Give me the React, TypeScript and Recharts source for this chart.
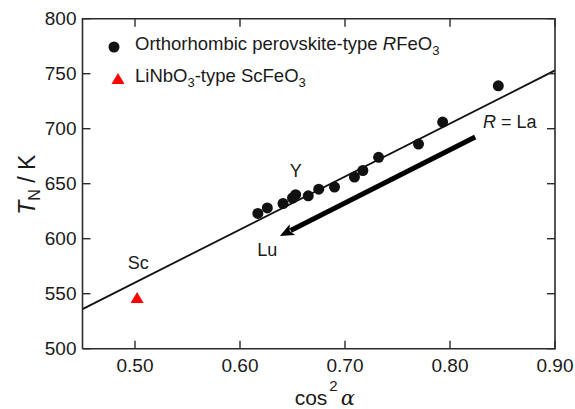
import React from "react";
import {
  ScatterChart,
  Scatter,
  XAxis,
  YAxis,
  ReferenceLine,
  ReferenceDot,
  Label,
} from "recharts";

// orthorhombic RFeO3 (cos^2 alpha, T_N)
const cos2Alpha = [
  0.617, 0.626, 0.641, 0.65, 0.653, 0.665, 0.675, 0.69, 0.709, 0.717, 0.732,
  0.77, 0.793, 0.846,
];
const tN = [623, 628, 632, 637, 640, 639, 645, 647, 656, 662, 674, 686, 706, 739];

// LiNbO3-type ScFeO3
const scX = [0.502];
const scY = [546];

// linear fit, end points
const fitX = [0.45, 0.9];
const fitY = [536, 753];

// arrow La -> Lu
const arrowX = [0.824, 0.638];
const arrowY = [692.5, 602.5];

const xDomain = [0.45, 0.9];
const yDomain = [500, 800];
const xTicks = [0.5, 0.6, 0.7, 0.8, 0.9];
const yTicks = [500, 550, 600, 650, 700, 750, 800];

const labelNames = ["Y", "Lu", "Sc", "R = La"];
const labelX = [0.653, 0.626, 0.503, 0.857];
const labelY = [662, 590, 578, 706];

const perovData = cos2Alpha.map((x, i) => ({ x, y: tN[i] }));
const scData = scX.map((x, i) => ({ x, y: scY[i] }));

// frame: the four corners of the plot, closed
const [X0, X1] = xDomain;
const [Y0, Y1] = yDomain;
const frameData = [
  { x: X0, y: Y0 },
  { x: X1, y: Y0 },
  { x: X1, y: Y1 },
  { x: X0, y: Y1 },
  { x: X0, y: Y0 },
];
// inward ticks on all four sides
const tickData = [
  ...xTicks.map((t) => ({ x: t, y: Y0, dir: "up" })),
  ...xTicks.map((t) => ({ x: t, y: Y1, dir: "down" })),
  ...yTicks.map((t) => ({ x: X0, y: t, dir: "right" })),
  ...yTicks.map((t) => ({ x: X1, y: t, dir: "left" })),
];

const FONT = "Liberation Sans, Arial, sans-serif";
const AXIS = "#2b2b2b";
const INK = "#1a1a1a";
const TICK_LEN = 8;
const tickFont = { fontSize: 19, fill: INK, fontFamily: FONT };

const Dot = (p: any) => <circle cx={p.cx} cy={p.cy} r={5.5} fill="#111" />;
const Tri = (p: any) => (
  <polygon
    points={`${p.cx},${p.cy - 6} ${p.cx - 6.5},${p.cy + 5} ${p.cx + 6.5},${p.cy + 5}`}
    fill="#ff0000"
  />
);
const NoMark = () => <g />;

const TickMark = (p: any) => {
  const d = p.payload?.dir ?? p.dir;
  const dx = d === "right" ? TICK_LEN : d === "left" ? -TICK_LEN : 0;
  const dy = d === "up" ? -TICK_LEN : d === "down" ? TICK_LEN : 0;
  return (
    <line
      x1={p.cx}
      y1={p.cy}
      x2={p.cx + dx}
      y2={p.cy + dy}
      stroke={AXIS}
      strokeWidth={1.4}
    />
  );
};

const Arrow = (p: any) => {
  const { x1, y1, x2, y2 } = p;
  const dx = x2 - x1;
  const dy = y2 - y1;
  const len = Math.sqrt(dx * dx + dy * dy);
  const ux = dx / len;
  const uy = dy / len;
  const head = 14;
  const bx = x2 - ux * head;
  const by = y2 - uy * head;
  const w = 6;
  return (
    <g>
      <line x1={x1} y1={y1} x2={bx + ux * 2} y2={by + uy * 2} stroke="#000" strokeWidth={5} />
      <polygon
        points={`${x2},${y2} ${bx - uy * w},${by + ux * w} ${bx + ux * 3},${by + uy * 3} ${bx + uy * w},${by - ux * w}`}
        fill="#000"
      />
    </g>
  );
};

const TextMark = (text: string) => (p: any) => {
  const { viewBox } = p;
  const cx = viewBox.x + (viewBox.width || 0) / 2;
  const cy = viewBox.y + (viewBox.height || 0) / 2;
  return (
    <text x={cx} y={cy} dy="0.35em" textAnchor="middle" fontSize={18} fontFamily={FONT} fill={INK}>
      {text === "R = La" ? (
        <>
          <tspan fontStyle="italic">R</tspan> = La
        </>
      ) : (
        text
      )}
    </text>
  );
};

const YTitle = (p: any) => {
  const { viewBox } = p;
  const cx = 27;
  const cy = viewBox.y + viewBox.height / 2 + 1;
  return (
    <text
      x={cx}
      y={cy}
      transform={`rotate(-90 ${cx} ${cy})`}
      textAnchor="middle"
      dy="0.35em"
      fontSize={23}
      fontFamily={FONT}
      fill={INK}
    >
      <tspan fontStyle="italic">T</tspan>
      <tspan fontSize={16} dy={5}>N</tspan>
      <tspan dy={-5}> / K</tspan>
    </text>
  );
};

const XTitle = (p: any) => {
  const { viewBox } = p;
  const cx = viewBox.x + viewBox.width / 2 + 6;
  return (
    <text x={cx} y={405} textAnchor="middle" fontSize={21} fontFamily={FONT} fill={INK}>
      cos
      <tspan fontSize={15} dy={-14} dx={2}>2</tspan>
      <tspan dy={14} dx={3} fontStyle="italic" fontFamily="DejaVu Serif, serif">α</tspan>
    </text>
  );
};

const subStyle = { fontSize: 13 };

const LegendBox = () => (
  <div
    style={{
      position: "absolute",
      left: 106,
      top: 31,
      fontFamily: FONT,
      fontSize: 18.5,
      lineHeight: "25px",
      color: INK,
      whiteSpace: "nowrap",
    }}
  >
    <div style={{ display: "flex", alignItems: "center" }}>
      <svg width={29} height={14}>
        <circle cx={8} cy={7} r={5.5} fill="#111" />
      </svg>
      <span>
        Orthorhombic perovskite-type <i>R</i>FeO<sub style={subStyle}>3</sub>
      </span>
    </div>
    <div style={{ display: "flex", alignItems: "center" }}>
      <svg width={29} height={14}>
        <polygon points="12,1 5.5,12 18.5,12" fill="#ff0000" />
      </svg>
      <span>
        LiNbO<sub style={subStyle}>3</sub>-type ScFeO<sub style={subStyle}>3</sub>
      </span>
    </div>
  </div>
);

export default function App() {
  return (
    <div style={{ position: "absolute", left: 0, top: 0, width: 575, height: 409 }}>
      <ScatterChart
        width={575}
        height={409}
        margin={{ top: 18.7, right: 20, bottom: 0, left: 0 }}
      >
        <XAxis
          type="number"
          dataKey="x"
          domain={xDomain}
          ticks={xTicks}
          tickFormatter={(v: number) => v.toFixed(2)}
          height={60.3}
          tickSize={0}
          tickMargin={10}
          tick={tickFont}
          axisLine={false}
          tickLine={false}
        >
          <Label content={XTitle} />
        </XAxis>
        <YAxis
          type="number"
          dataKey="y"
          domain={yDomain}
          ticks={yTicks}
          width={82.5}
          tickSize={0}
          tickMargin={6}
          tick={tickFont}
          axisLine={false}
          tickLine={false}
        >
          <Label content={YTitle} />
        </YAxis>
        <Scatter
          name="frame"
          data={frameData}
          line={{ stroke: AXIS, strokeWidth: 1.6 }}
          lineType="joint"
          shape={NoMark}
          isAnimationActive={false}
        />
        <Scatter name="ticks" data={tickData} shape={TickMark} isAnimationActive={false} />
        <ReferenceLine
          segment={[
            { x: fitX[0], y: fitY[0] },
            { x: fitX[1], y: fitY[1] },
          ]}
          stroke="#111"
          strokeWidth={1.8}
          ifOverflow="hidden"
        />
        <ReferenceLine
          segment={[
            { x: arrowX[0], y: arrowY[0] },
            { x: arrowX[1], y: arrowY[1] },
          ]}
          shape={Arrow}
        />
        {labelNames.map((n, i) => (
          <ReferenceDot
            key={n}
            x={labelX[i]}
            y={labelY[i]}
            r={0}
            fill="none"
            stroke="none"
            label={TextMark(n)}
          />
        ))}
        <Scatter name="perov" data={perovData} shape={Dot} isAnimationActive={false} />
        <Scatter name="sc" data={scData} shape={Tri} isAnimationActive={false} />
      </ScatterChart>
      <LegendBox />
    </div>
  );
}
